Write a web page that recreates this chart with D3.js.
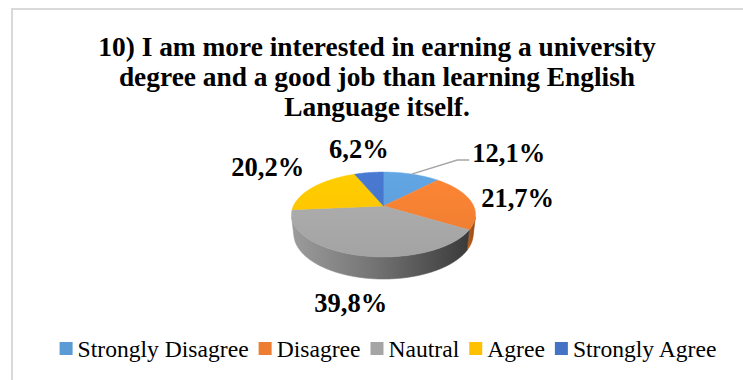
<!DOCTYPE html>
<html>
<head>
<meta charset="utf-8">
<script src="https://cdn.jsdelivr.net/npm/d3@7/dist/d3.min.js"></script>
<style>
  html, body { margin: 0; padding: 0; background: #fff; }
  svg { display: block; }
  text { font-family: "Liberation Serif", Tinos, "Times New Roman", serif; }
</style>
</head>
<body>
<svg id="chart" width="743" height="380"></svg>
<script>
// Survey item 10 — answer shares (percent)
const titleLines = [
  "10) I am more interested in earning a university",
  "degree and a good job than learning English",
  "Language itself."
];
const categories = ["Strongly Disagree", "Disagree", "Nautral", "Agree", "Strongly Agree"];
const values = [12.1, 21.7, 39.8, 20.2, 6.2];

// Palette (top face, side wall)
const topColors  = ["#5b9bd5", "#ed7d31", "#a5a5a5", "#ffc000", "#4472c4"];
const sideColors = [["#4a7fb0", "#2f5d87"], ["#c0621f", "#8f4410"], ["#9c9c9c", "#3a3a3a"], ["#d9a300", "#a07800"], ["#3a62a8", "#2a4880"]];

// Label nudges from each slice's rim mid-point (px)
const labelNudge = [[97, -12], [47, 6], [-7, 57], [-46, -11], [-10, -15]];

const W = 743, H = 380;
const svg = d3.select("#chart");

// chart area frame
svg.append("rect")
  .attr("x", 12).attr("y", 9)
  .attr("width", W + 40).attr("height", H + 40)
  .attr("fill", "#fff").attr("stroke", "#d9d9d9").attr("stroke-width", 2);

// title
const title = svg.append("text")
  .attr("text-anchor", "middle")
  .style("font-weight", "bold")
  .style("font-size", "27.4px")
  .attr("fill", "#000");
titleLines.forEach((t, i) => {
  title.append("tspan").attr("x", 377).attr("y", 56 + i * 30).text(t);
});

// ---- 3D pie: perspective projection of a tilted disc ----
const cx = 383.5, cy = 206;          // projected centre of the disc
const sinA = 0.452, cosA = Math.sqrt(1 - sinA * sinA);
const camDist = 4.46, focal = 402, thick = 0.242;

function proj(theta, h) {
  const X = Math.sin(theta), Z = Math.cos(theta);
  const d = camDist + Z * cosA - h * sinA;
  const yc = h * cosA + Z * sinA;
  return [cx + focal * X / d, cy - focal * yc / d];
}
function arcPts(a0, a1, h) {
  const n = Math.max(2, Math.ceil(Math.abs(a1 - a0) / 0.01));
  return d3.range(n + 1).map(i => proj(a0 + (a1 - a0) * i / n, h));
}

const arcs = d3.pie().sort(null).value(d => d)(values);

const defs = svg.append("defs");
const line = d3.line();

// side walls (visible where the rim faces the viewer)
const visLim = Math.acos(-1 / (camDist * cosA));
const vis0 = visLim, vis1 = 2 * Math.PI - visLim;
const sideG = svg.append("g");
arcs.forEach((a, i) => {
  const s0 = Math.max(a.startAngle, vis0), s1 = Math.min(a.endAngle, vis1);
  if (s1 <= s0) return;
  const top = arcPts(s0, s1, 0);
  const bot = arcPts(s1, s0, -thick);
  const xs = top.concat(bot).map(p => p[0]);
  const gid = "side" + i;
  const g = defs.append("linearGradient").attr("id", gid)
    .attr("gradientUnits", "userSpaceOnUse")
    .attr("x1", d3.min(xs)).attr("x2", d3.max(xs)).attr("y1", 0).attr("y2", 0);
  g.append("stop").attr("offset", 0).attr("stop-color", sideColors[i][0]);
  g.append("stop").attr("offset", 0.45).attr("stop-color", d3.interpolateRgb(sideColors[i][0], sideColors[i][1])(0.4));
  g.append("stop").attr("offset", 1).attr("stop-color", sideColors[i][1]);
  sideG.append("path")
    .attr("d", line(top.concat(bot)) + "Z")
    .attr("fill", `url(#${gid})`)
    .attr("stroke", `url(#${gid})`).attr("stroke-width", 0.6);
});

// top faces
const topG = svg.append("g");
arcs.forEach((a, i) => {
  const pts = [[cx, cy]].concat(arcPts(a.startAngle, a.endAngle, 0));
  const gid = "top" + i;
  const base = d3.color(topColors[i]);
  const g = defs.append("linearGradient").attr("id", gid)
    .attr("gradientUnits", "userSpaceOnUse")
    .attr("x1", 0).attr("y1", 170).attr("x2", 0).attr("y2", 258);
  g.append("stop").attr("offset", 0).attr("stop-color", base.brighter(0.2));
  g.append("stop").attr("offset", 1).attr("stop-color", base.darker(0.03));
  topG.append("path")
    .attr("d", line(pts) + "Z")
    .attr("fill", `url(#${gid})`)
    .attr("stroke", `url(#${gid})`).attr("stroke-width", 0.5);
});

// data labels
const fmt = v => d3.format(".1f")(v).replace(".", ",") + "%";
const labG = svg.append("g")
  .style("font-weight", "bold")
  .style("font-size", "26.5px")
  .attr("fill", "#000");
arcs.forEach((a, i) => {
  const mid = (a.startAngle + a.endAngle) / 2;
  const rim = proj(mid, 0);
  const lx = rim[0] + labelNudge[i][0], ly = rim[1] + labelNudge[i][1];
  const t = labG.append("text")
    .attr("x", lx).attr("y", ly)
    .attr("text-anchor", "middle")
    .text(fmt(values[i]));
  if (i === 0) {
    // leader line from the slice rim to its label
    const w = t.node().getComputedTextLength();
    const endX = lx - w / 2 - 3, endY = ly - 2;
    svg.append("path")
      .attr("d", line([rim, [endX - 12, endY], [endX, endY]]))
      .attr("fill", "none").attr("stroke", "#a6a6a6").attr("stroke-width", 1.5);
  }
});

// legend
const legG = svg.append("g")
  .style("font-size", "23.6px")
  .attr("fill", "#000");
const box = 13, gapIn = 5, gapOut = 10;
let x = 0;
const items = categories.map((c, i) => {
  const g = legG.append("g");
  g.append("rect").attr("x", 0).attr("y", -15).attr("width", box).attr("height", box).attr("fill", topColors[i]);
  const t = g.append("text").attr("x", box + gapIn).attr("y", 0).text(c);
  const w = box + gapIn + t.node().getComputedTextLength();
  const item = { g, x };
  x += w + gapOut;
  return item;
});
const totalW = x - gapOut;
const startX = 388 - totalW / 2;
items.forEach(it => it.g.attr("transform", `translate(${startX + it.x},357)`));
</script>
</body>
</html>
